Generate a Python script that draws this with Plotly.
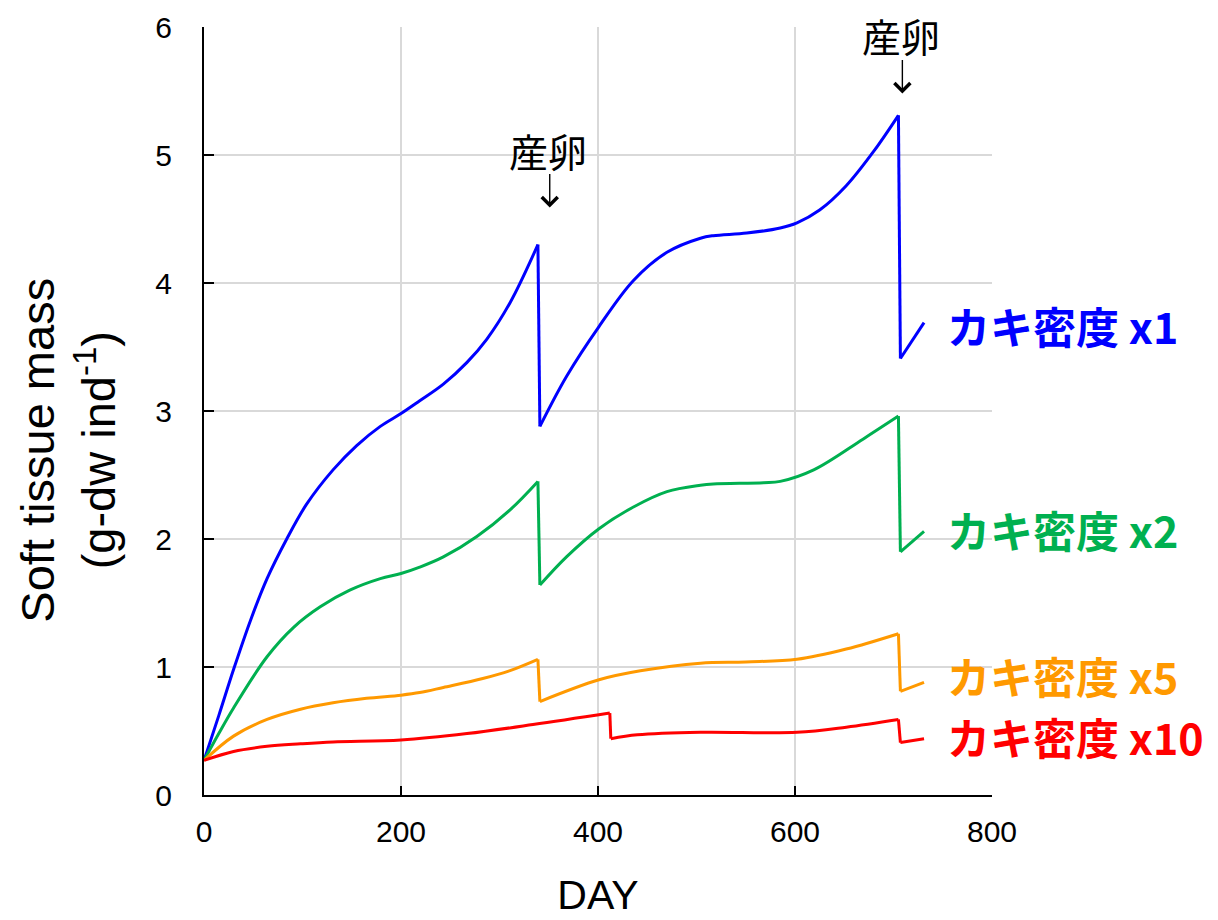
import plotly.graph_objects as go

# ---- data ----
days_x1 = [0, 15, 30, 47, 64, 84, 104, 131, 155, 179, 200, 219, 243, 267, 287, 311,
           339, 341, 368, 401, 436, 470, 504, 517, 551, 585, 602, 625, 652, 680, 705, 707, 731]
mass_x1 = [0.27, 0.62, 0.98, 1.36, 1.69, 2.00, 2.27, 2.54, 2.73, 2.88, 2.98, 3.08, 3.21, 3.38, 3.56, 3.85,
           4.30, 2.88, 3.27, 3.66, 4.02, 4.24, 4.35, 4.37, 4.39, 4.43, 4.47, 4.57, 4.76, 5.03, 5.31, 3.41, 3.69]

days_x2 = [0, 15, 30, 64, 91, 118, 148, 179, 200, 219, 243, 277, 311, 339, 341, 368, 401,
           436, 470, 504, 517, 568, 585, 619, 669, 705, 707, 731]
mass_x2 = [0.27, 0.48, 0.68, 1.08, 1.31, 1.47, 1.60, 1.69, 1.73, 1.78, 1.86, 2.02, 2.23, 2.45, 1.64, 1.86, 2.08,
           2.25, 2.37, 2.42, 2.43, 2.44, 2.45, 2.54, 2.78, 2.96, 1.90, 2.06]

days_x5 = [0, 30, 64, 98, 131, 165, 200, 219, 243, 283, 310, 339, 341, 401, 443, 504, 550, 602, 652, 705, 707, 731]
mass_x5 = [0.27, 0.46, 0.59, 0.67, 0.72, 0.755, 0.78, 0.80, 0.84, 0.91, 0.97, 1.06, 0.73, 0.90, 0.97, 1.03, 1.04,
           1.06, 1.14, 1.26, 0.81, 0.88]

days_x10 = [0, 30, 64, 98, 131, 200, 267, 334, 412, 413, 440, 504, 602, 652, 705, 707, 731]
mass_x10 = [0.27, 0.34, 0.38, 0.40, 0.415, 0.43, 0.48, 0.55, 0.64, 0.44, 0.47, 0.49, 0.49, 0.53, 0.59, 0.41, 0.44]

series_names = ["カキ密度 x1", "カキ密度 x2", "カキ密度 x5", "カキ密度 x10"]
series_colors = ["#0000FF", "#00B050", "#FF9900", "#FF0000"]
label_y = [3.67, 2.08, 0.94, 0.46]
label_day = 752

spawn_label = "産卵"
spawn_text_day = [349, 708]
spawn_text_y = [5.04, 5.94]
spawn_days = [351, 709]          # arrow tips (day)
spawn_tip_y = [4.59, 5.48]       # arrow tips (value)

x_ticks = [0, 200, 400, 600, 800]
y_ticks = [0, 1, 2, 3, 4, 5, 6]

# ---- figure ----
fig = go.Figure()


def segments(d, m):
    """split a series where it drops abruptly (spawning) so smooth parts can be splined"""
    segs, start = [], 0
    for i in range(1, len(d)):
        if d[i] - d[i - 1] <= 2:
            segs.append((d[start:i], m[start:i], "spline"))
            segs.append((d[i - 1:i + 1], m[i - 1:i + 1], "linear"))
            start = i
    segs.append((d[start:], m[start:], "spline"))
    return segs


all_days = [days_x1, days_x2, days_x5, days_x10]
all_mass = [mass_x1, mass_x2, mass_x5, mass_x10]
for d, m, name, col in zip(all_days, all_mass, series_names, series_colors):
    for k, (sd, sm, shape) in enumerate(segments(d, m)):
        fig.add_trace(go.Scatter(x=sd, y=sm, mode="lines", name=name, legendgroup=name,
                                 line=dict(color=col, width=3, shape=shape,
                                           smoothing=1.0 if shape == "spline" else None),
                                 showlegend=False))

latin = "Liberation Sans, Arial, Noto Sans CJK JP"
cjk = "Noto Sans CJK JP, Liberation Sans"

annotations = []
for name, col, yy in zip(series_names, series_colors, label_y):
    annotations.append(dict(x=label_day, y=yy, xref="x", yref="y", text="<b>" + name + "</b>",
                            showarrow=False, xanchor="left", yanchor="middle",
                            font=dict(family=cjk, size=43, color=col)))
for tx, ty, sd, sy in zip(spawn_text_day, spawn_text_y, spawn_days, spawn_tip_y):
    annotations.append(dict(x=tx, y=ty, xref="x", yref="y", text=spawn_label,
                            showarrow=False, xanchor="center", yanchor="middle",
                            font=dict(family=cjk, size=39, color="black")))
    annotations.append(dict(x=sd, y=sy, xref="x", yref="y", text=" ",
                            showarrow=True, ax=0, ay=-36, arrowhead=4, arrowsize=2.2,
                            arrowwidth=1.4, arrowcolor="black", standoff=0, startstandoff=0,
                            font=dict(size=2)))

annotations.append(dict(x=-0.172, y=0.449, xref="paper", yref="paper",
                        text="Soft tissue mass<br>(g-dw ind<sup>-1</sup>)", textangle=-90,
                        showarrow=False, xanchor="center", yanchor="middle",
                        font=dict(family=latin, size=47, color="black")))

# the page body adds an 8px offset; margins compensate so the plot area sits at x 204-992, y 27-795
fig.update_layout(
    width=1210, height=912,
    margin=dict(l=196, r=226, t=19, b=125),
    paper_bgcolor="white", plot_bgcolor="white",
    annotations=annotations,
    font=dict(family=latin, color="black"),
)
fig.update_xaxes(range=[0, 800], tickvals=x_ticks, ticks="inside", ticklen=9, tickwidth=2,
                 tickcolor="black", showline=True, linecolor="black", linewidth=2,
                 showgrid=True, gridcolor="#D9D9D9", gridwidth=2, zeroline=False, automargin=False,
                 tickfont=dict(family=latin, size=30, color="black"), ticklabelstandoff=9,
                 title=dict(text="DAY", font=dict(family=latin, size=41, color="black"), standoff=33))
fig.update_yaxes(range=[0, 6], tickvals=y_ticks, ticks="inside", ticklen=10, tickwidth=2,
                 tickcolor="black", showline=True, linecolor="black", linewidth=2,
                 showgrid=True, gridcolor="#D9D9D9", gridwidth=2, zeroline=False, automargin=False,
                 tickfont=dict(family=latin, size=30, color="black"), ticklabelstandoff=24)

fig.write_html("out.html")
